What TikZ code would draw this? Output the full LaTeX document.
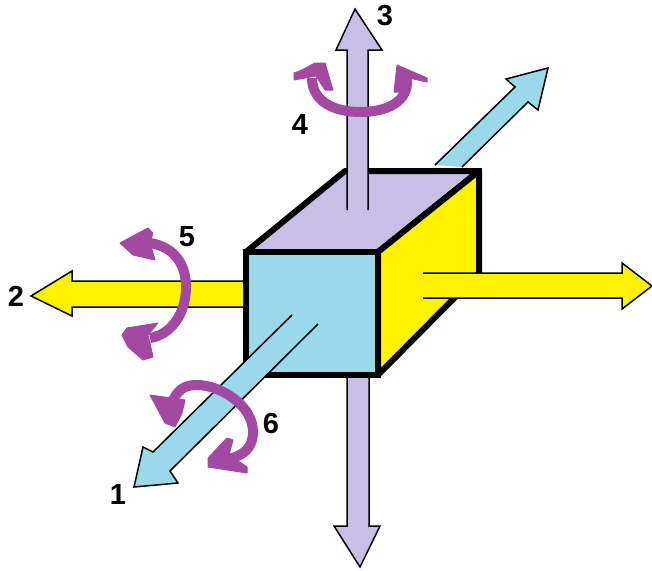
\documentclass[tikz,border=0pt]{standalone}
\usepackage{xcolor}
\usepackage{fontspec}
\setmainfont{Liberation Sans}
\usepackage{tikz}
\definecolor{figBlue}{HTML}{99D9EA}
\definecolor{figLilac}{HTML}{C8BFE7}
\definecolor{figYellow}{HTML}{FFF200}
\definecolor{figPurple}{HTML}{A349A4}

\begin{document}
\begin{tikzpicture}[
  x=1pt, y=-1pt,
  axisarrow/.style={draw=black, line width=1.5pt, fill=#1, line join=miter},
  cubeface/.style={draw=black, line width=6pt, fill=#1, line join=round},
  cubeedge/.style={draw=black, line width=6pt, line join=miter},
  turn/.style={draw=figPurple, line width=10pt},
  turnhead/.style={fill=figPurple, draw=figPurple, line width=1pt, line join=round},
  num/.style={font=\fontsize{29}{29}\selectfont\bfseries, text=black, inner sep=0pt},
]
\useasboundingbox (0,0) rectangle (652,570);

% === Axes behind the cube ===
\filldraw[axisarrow=figLilac]
  (347,377) -- (347,526) -- (334,526) -- (360,567) -- (380,526) -- (369,526) -- (369,377);
\filldraw[axisarrow=figYellow]
  (244,281) -- (72,281) -- (72,271) -- (31,296) -- (72,316) -- (72,307) -- (244,307);
\filldraw[axisarrow=figBlue]
  (435,165) -- (515,87) -- (506,79) -- (548,68) -- (538,110) -- (528,102) -- (462,167);

% === Cube ===
\filldraw[cubeface=figLilac] (246,252) -- (345,171) -- (479,171) -- (378,252) -- cycle;
\filldraw[cubeface=figYellow] (378,252) -- (479,171) -- (479,273) -- (378,375) -- cycle;
\draw[cubeedge] (345,171) -- (479,171) -- (479,273);
\filldraw[cubeface=figBlue, line join=miter] (246,252) rectangle (378,375);

% === Axes in front of the cube ===
\filldraw[axisarrow=figLilac]
  (347,210) -- (347,50) -- (336,50) -- (355,9) -- (382,50) -- (368,50) -- (368,210);
\filldraw[axisarrow=figYellow]
  (423,273) -- (622,273) -- (622,263) -- (652,286) -- (622,309) -- (622,298) -- (423,298);
\filldraw[axisarrow=figBlue]
  (292,315) -- (153,452) -- (143,447) -- (134,487) -- (178,483) -- (170,471) -- (318,324);

% === Rotation about the vertical axis ===
\draw[turn] (312,78) .. controls (312,102) and (335,112) .. (360,112)
  .. controls (387,112) and (409,102) .. (407,78);
\fill[turnhead] (294,73) -- (300,71) -- (315,63) -- (325,63) -- (333,90) -- (325,90) -- (316,76) -- (294,80) -- cycle;
\fill[turnhead] (397,65) -- (427,78) -- (427,82) -- (409,78) -- (402,92) -- (394,92) -- cycle;

% === Rotation about the horizontal axis ===
\draw[turn] (150,243) .. controls (175,247) and (186,265) .. (186,287)
  .. controls (186,315) and (170,335) .. (150,338);
\fill[turnhead] (120,243) -- (148,228) -- (153,233) -- (150,243) -- (155,260) -- (133,255) -- cycle;
\fill[turnhead] (122,335) -- (127,328) -- (158,323) -- (148,335) -- (153,357) -- (143,360) -- (128,347) -- cycle;

% === Rotation about the depth axis ===
\draw[turn] (171,405) .. controls (177,389) and (185,385) .. (197,385)
  .. controls (220,385) and (253,405) .. (253,432)
  .. controls (253,448) and (243,456) .. (228,459);
\fill[turnhead] (150,395) -- (185,400) -- (182,413) -- (175,427) -- (165,423) -- cycle;
\fill[turnhead] (227,438) -- (233,440) -- (229,455) -- (247,467) -- (247,473) -- (208,467) -- (208,458) -- cycle;

% === Numbers ===
\node[num] (one) at (118,495) {1};
\node[num] (two) at (16,296) {2};
\node[num] (three) at (385,16) {3};
\node[num] (four) at (300,125) {4};
\node[num] (five) at (187,237) {5};
\node[num] (six) at (271,424) {6};

\end{tikzpicture}
\end{document}
